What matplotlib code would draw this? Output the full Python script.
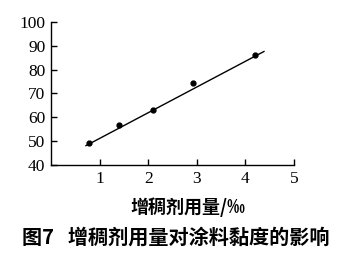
import matplotlib.pyplot as plt

# data
dose = [0.78, 1.4, 2.09, 2.92, 4.2]
viscosity = [49.2, 56.7, 63.1, 74.3, 86.2]

# fitted line (endpoints)
fit_x = [0.72, 4.38]
fit_y = [48.1, 87.6]

x_ticks = [1, 2, 3, 4, 5]
y_ticks = [40, 50, 60, 70, 80, 90, 100]

plt.rcParams['font.family'] = ['Noto Sans CJK SC', 'DejaVu Sans']

fig = plt.figure(figsize=(3.42, 2.61), dpi=100)
ax = fig.add_axes([0.149, 0.368, 0.711, 0.548])

ax.plot(fit_x, fit_y, color='black', linewidth=1.0)
ax.plot(dose, viscosity, 'o', color='black', markersize=3.5)

ax.set_xlim(0, 5)
ax.set_ylim(40, 100)
ax.set_xticks(x_ticks)
ax.set_yticks(y_ticks)
ax.set_xticklabels([str(t) for t in x_ticks], family='Liberation Serif', fontsize=12.5)
ax.set_yticklabels([str(t) for t in y_ticks], family='Liberation Serif', fontsize=12.5)
ax.tick_params(direction='in', length=4, width=1, pad=4)
ax.spines['top'].set_visible(False)
ax.spines['right'].set_visible(False)
ax.spines['left'].set_linewidth(1.0)
ax.spines['bottom'].set_linewidth(1.0)

fig.text(0.55, 0.205, '增稠剂用量/‰', ha='center', va='center', fontsize=13, fontweight='bold')
fig.text(0.515, 0.092, '图7   增稠剂用量对涂料黏度的影响', ha='center', va='center', fontsize=14.5, fontweight='bold')

fig.savefig('out.png', dpi=100)
